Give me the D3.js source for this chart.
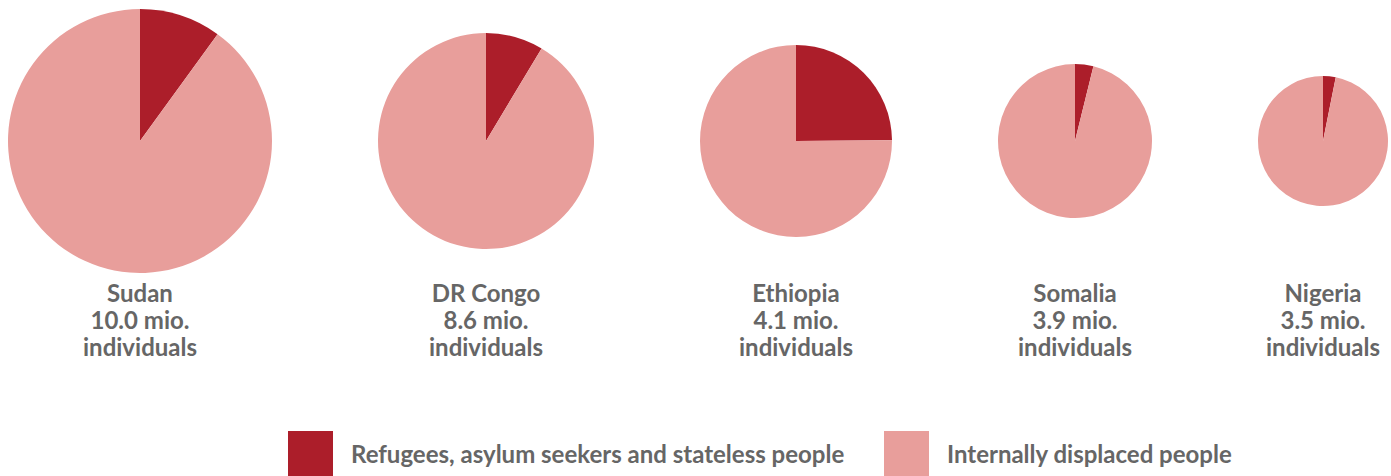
<!DOCTYPE html>
<html>
<head>
<meta charset="utf-8">
<script src="https://cdn.jsdelivr.net/npm/d3@7"></script>
<style>
  body { margin: 0; background: #fff; }
  svg { display: block; font-family: Lato, "Open Sans", sans-serif; }
</style>
</head>
<body>
<svg id="chart" width="1391" height="476"></svg>
<script>
// data (million individuals)
var countries = ["Sudan", "DR Congo", "Ethiopia", "Somalia", "Nigeria"];
var totals    = [10.0, 8.6, 4.1, 3.9, 3.5];
var refugees  = [1.0, 0.74, 1.02, 0.15, 0.11];
var idps      = [9.0, 7.86, 3.08, 3.75, 3.39];
var seriesNames = ["Refugees, asylum seekers and stateless people", "Internally displaced people"];

var W = 1391, H = 476;
var svg = d3.select("#chart");

var color = d3.scaleOrdinal()
    .domain(seriesNames)
    .range(["#ac1e2a", "#e89e9b"]);

// circle sizes as drawn in the original
var radius = d3.scaleOrdinal()
    .domain(countries)
    .range([132, 108, 96, 77, 65]);

var gap = 106, left = 8, cy = 141;

// centre x of each pie, packed left to right
var cx = [];
countries.forEach(function(c, i){
    if (i == 0) cx.push(left + radius(c));
    else cx.push(cx[i-1] + radius(countries[i-1]) + gap + radius(c));
});

var pie = d3.pie().sort(null).value(function(d){ return d.value; });

var g = svg.selectAll("g.country")
    .data(countries)
    .enter().append("g")
    .attr("class", "country")
    .attr("transform", function(d, i){ return "translate(" + cx[i] + "," + cy + ")"; });

g.each(function(c, i){
    var arc = d3.arc().innerRadius(0).outerRadius(radius(c));
    var slices = pie([
        {key: seriesNames[0], value: refugees[i]},
        {key: seriesNames[1], value: idps[i]}
    ]);
    d3.select(this).selectAll("path")
        .data(slices)
        .enter().append("path")
        .attr("d", arc)
        .style("fill", function(d){ return color(d.data.key); });
});

// labels under the pies
var lab = svg.selectAll("text.label")
    .data(countries)
    .enter().append("text")
    .attr("class", "label")
    .attr("x", function(d, i){ return cx[i]; })
    .attr("y", 302)
    .attr("text-anchor", "middle")
    .style("font-size", "24px")
    .style("font-weight", "700")
    .style("fill", "#666");

lab.each(function(c, i){
    var t = d3.select(this);
    var lines = [c, totals[i].toFixed(1) + " mio.", "individuals"];
    lines.forEach(function(l, k){
        t.append("tspan")
            .attr("x", cx[i])
            .attr("dy", k == 0 ? 0 : 27)
            .text(l);
    });
});

// legend
var legX = [288, 884];
var leg = svg.selectAll("g.legend")
    .data(seriesNames)
    .enter().append("g")
    .attr("class", "legend")
    .attr("transform", function(d, i){ return "translate(" + legX[i] + ",431)"; });

leg.append("rect")
    .attr("width", 45)
    .attr("height", 45)
    .style("fill", function(d){ return color(d); });

leg.append("text")
    .attr("x", 63)
    .attr("y", 32)
    .style("font-size", "24px")
    .style("font-weight", "700")
    .style("fill", "#666")
    .text(function(d){ return d; });
</script>
</body>
</html>
